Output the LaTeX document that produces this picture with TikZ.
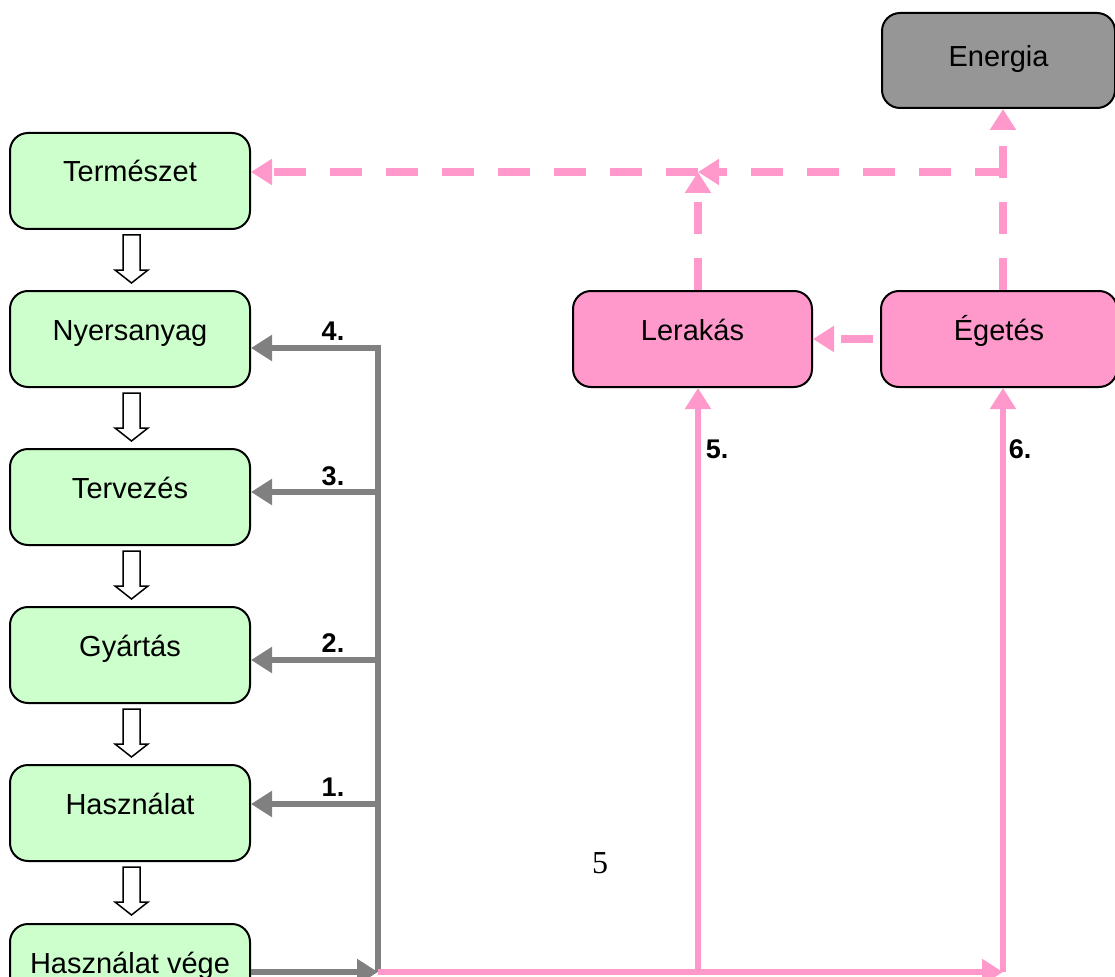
\documentclass[tikz,border=0pt]{standalone}
\usepackage{fontspec}
\setmainfont{Liberation Sans}
\newfontfamily\pagefont{Liberation Serif}
\usetikzlibrary{arrows.meta}
\definecolor{pinkc}{HTML}{FF99CC}
\definecolor{greenc}{HTML}{CCFFCC}
\definecolor{grayc}{HTML}{808080}
\definecolor{energc}{HTML}{969696}
\begin{document}
\begin{tikzpicture}[x=1pt,y=-1pt,
  box/.style={draw=black,line width=2pt,rounded corners=18pt,minimum width=240pt,minimum height=96pt,inner sep=0pt},
  greenbox/.style={box,fill=greenc},
  pinkbox/.style={box,fill=pinkc},
  txt/.style={font=\fontsize{29}{34}\selectfont,anchor=base,inner sep=0pt},
  lbl/.style={font=\fontsize{27}{32}\selectfont\bfseries,inner sep=0pt},
  tip/.style={-{Triangle[length=21pt,width=25pt]}},
  gline/.style={draw=grayc,line width=6pt},
  pline/.style={draw=pinkc,line width=6pt},
  dline/.style={draw=pinkc,line width=8pt,dash pattern=on 32pt off 24pt},
  hollow/.style={draw=black,line width=1.5pt,fill=white}]
\clip (0,0) rectangle (1115,976);
\fill[white] (0,0) rectangle (1115,976);
% left column
\node[greenbox] (nat) at (130,181) {};
\node[greenbox] (nyers) at (130,339) {};
\node[greenbox] (terv) at (130,497) {};
\node[greenbox] (gyart) at (130,655) {};
\node[greenbox] (haszn) at (130,813) {};
\node[greenbox] (vege) at (130,972) {};
\node[txt] (natT) at ([yshift=-50pt]nat.north) {Természet};
\node[txt] (nyersT) at ([yshift=-50pt]nyers.north) {Nyersanyag};
\node[txt] (tervT) at ([yshift=-50pt]terv.north) {Tervezés};
\node[txt] (gyartT) at ([yshift=-50pt]gyart.north) {Gyártás};
\node[txt] (hasznT) at ([yshift=-50pt]haszn.north) {Használat};
\node[txt] (vegeT) at ([yshift=-50pt]vege.north) {Használat vége};
% hollow arrows
\foreach \t in {235,393,551,709,867}{
  \draw[hollow] (123,\t) -- (140,\t) -- (140,\t+35) -- (148,\t+35) -- (131.5,\t+48)
    -- (115,\t+35) -- (123,\t+35) -- cycle;
}
% right boxes
\node[pinkbox,minimum width=239pt] (lerak) at (692.5,339) {};
\node[pinkbox,minimum width=236pt] (eget) at (999,339) {};
\node[box,fill=energc,minimum width=233pt,minimum height=95pt] (energ) at (998.5,60.5) {};
\node[txt] (lerakT) at ([yshift=-50pt]lerak.north) {Lerakás};
\node[txt] (egetT) at ([yshift=-50pt]eget.north) {Égetés};
\node[txt] (energT) at ([yshift=-55pt]energ.north) {Energia};
% gray feedback lines
\coordinate (j4) at (378,348);
\coordinate (j3) at (378,492);
\coordinate (j2) at (378,660);
\coordinate (j1) at (378,804);
\coordinate (jb) at (378,972);
\draw[gline,{Triangle[length=21pt,width=25pt]}-] (j4 -| nyers.east) -- (j4) -- (jb);
\draw[gline,tip] (j3) -- (j3 -| terv.east);
\draw[gline,tip] (j2) -- (j2 -| gyart.east);
\draw[gline,tip] (j1) -- (j1 -| haszn.east);
\draw[gline,tip] (jb -| vege.east) -- (jb);
\node[lbl] (l4) at (333,331) {4.};
\node[lbl] (l3) at (333,476) {3.};
\node[lbl] (l2) at (333,643) {2.};
\node[lbl] (l1) at (333,787) {1.};
% pink solid lines
\coordinate (c5) at (698,972);
\coordinate (c6) at (1003,972);
\draw[pline,tip] (jb) -- (c6);
\draw[pline,tip] (c5) -- (c5 |- lerak.south);
\draw[pline,tip] (c6) -- (c6 |- eget.south);
\node[lbl] (l5) at (717,449) {5.};
\node[lbl] (l6) at (1020,449) {6.};
% pink dashed lines
\coordinate (t5) at (698,172);
\coordinate (t6) at (1003,172);
\draw[dline,tip] (t6 |- eget.north) -- (t6 |- energ.south);
\draw[dline,tip] (t5 |- lerak.north) -- (t5);
\draw[dline,tip] ([xshift=4pt]t6) -- (t5);
\draw[dline,tip] (t5) -- (t5 -| nat.east);
\draw[dline,tip,dash phase=49pt] (eget.west) -- (lerak.east);
% page number
\node[font=\pagefont\fontsize{32}{36}\selectfont,inner sep=0pt] (pg) at (600,863) {5};
\end{tikzpicture}
\end{document}
